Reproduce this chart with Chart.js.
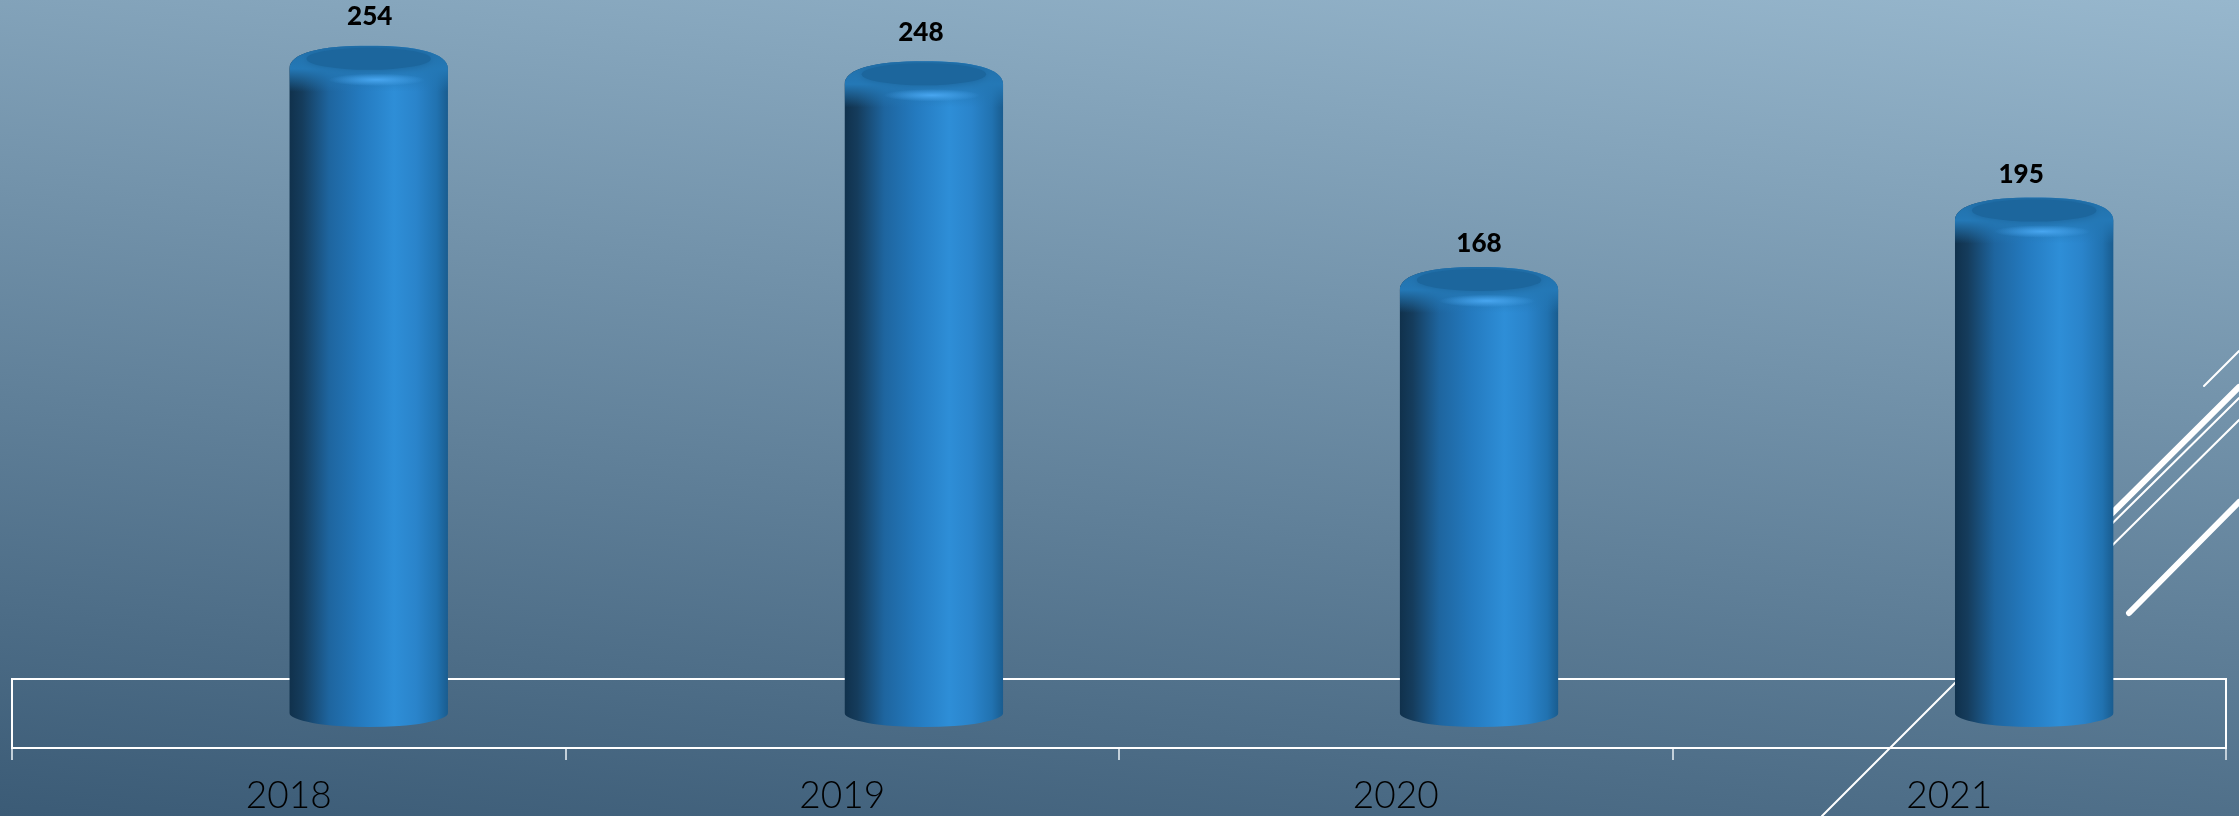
<!DOCTYPE html>
<html>
<head>
<meta charset="utf-8">
<title>Chart</title>
<script src="https://cdn.jsdelivr.net/npm/chart.js@4"></script>
<style>
html, body { margin: 0; padding: 0; }
body {
    width: 2239px; height: 816px; overflow: hidden;
    background: linear-gradient(186deg, #97b7cd 0%, #3b5b76 100%);
}
#wrap { width: 2239px; height: 816px; }
</style>
</head>
<body>
<div id="wrap"><canvas id="columnChart"></canvas></div>
<script>
const years = ["2018", "2019", "2020", "2021"];
const counts = [254, 248, 168, 195];

// the columns stand on the back of the floor, so they sit up and right of their tick,
// and the perspective spreads them out a little
const DEPTH_X = 79.1;
const DEPTH_Y = -21;
const SPREAD_X = 1.003;
const COLUMN_WIDTH = 158;
const BASE_VALUE = -11;

function bodyGradient(ctx, left) {
    const g = ctx.createLinearGradient(left, 0, left + COLUMN_WIDTH, 0);
    g.addColorStop(0, "#10314c");
    g.addColorStop(0.08, "#153c5c");
    g.addColorStop(0.25, "#1e659f");
    g.addColorStop(0.45, "#247abf");
    g.addColorStop(0.66, "#2e8ed7");
    g.addColorStop(0.8, "#2a84cb");
    g.addColorStop(0.93, "#2172b0");
    g.addColorStop(1, "#195c8f");
    return g;
}

function silhouette(ctx, el) {
    const l = el.x - COLUMN_WIDTH / 2, r = el.x + COLUMN_WIDTH / 2;
    const top = el.y, foot = el.base - 14;
    ctx.moveTo(l, foot);
    ctx.lineTo(l, top + 23);
    ctx.bezierCurveTo(l, top + 7, el.x - 48, top, el.x, top);
    ctx.bezierCurveTo(el.x + 48, top, r, top + 7, r, top + 23);
    ctx.lineTo(r, foot);
    ctx.ellipse(el.x, foot, COLUMN_WIDTH / 2, 14, 0, 0, Math.PI);
    ctx.closePath();
}

function drawCap(ctx, el) {
    const l = el.x - COLUMN_WIDTH / 2, top = el.y;

    // shoulder fades into the body below it
    const fade = ctx.createLinearGradient(0, top, 0, top + 46);
    fade.addColorStop(0, "#2170aa");
    fade.addColorStop(0.5, "rgba(36,120,182,1)");
    fade.addColorStop(1, "rgba(36,120,182,0)");
    ctx.fillStyle = fade;
    ctx.fillRect(l, top, COLUMN_WIDTH, 46);

    ctx.save();
    ctx.shadowColor = "#1c669d";
    ctx.shadowBlur = 7;
    ctx.fillStyle = "#1c669d";
    ctx.beginPath();
    ctx.ellipse(el.x, top + 13, 62, 11, 0, 0, Math.PI * 2);
    ctx.fill();
    ctx.restore();

    ctx.save();
    ctx.translate(el.x + 8, top + 34);
    ctx.scale(1, 0.13);
    const glow = ctx.createRadialGradient(0, 0, 0, 0, 0, 48);
    glow.addColorStop(0, "rgba(72,166,240,1)");
    glow.addColorStop(1, "rgba(72,166,240,0)");
    ctx.fillStyle = glow;
    ctx.beginPath();
    ctx.arc(0, 0, 48, 0, Math.PI * 2);
    ctx.fill();
    ctx.restore();
}

const backdrop = {
    id: "backdrop",
    beforeDatasetsDraw(chart) {
        const { ctx, chartArea } = chart;
        ctx.save();
        ctx.strokeStyle = "#ffffff";
        ctx.lineCap = "round";
        [
            [2204, 386, 2239, 351, 2],
            [2060, 565, 2239, 387, 6],
            [2060, 575, 2239, 398, 2],
            [2060, 597, 2239, 420, 2],
            [2129, 613, 2239, 502, 6],
            [1822, 816, 2000, 638, 2]
        ].forEach(([x1, y1, x2, y2, w]) => {
            ctx.lineWidth = w;
            ctx.beginPath();
            ctx.moveTo(x1, y1);
            ctx.lineTo(x2, y2);
            ctx.stroke();
        });
        // floor outline above the axis line
        ctx.lineCap = "butt";
        ctx.lineWidth = 2;
        ctx.beginPath();
        ctx.moveTo(chartArea.left, chartArea.bottom);
        ctx.lineTo(chartArea.left, 679);
        ctx.lineTo(chartArea.right, 679);
        ctx.lineTo(chartArea.right, chartArea.bottom);
        ctx.stroke();
        ctx.restore();
    }
};

// value labels do not sit square over the columns in the original
const labelShift = [[1, -29], [-3, -29], [0, -23], [-13, -23]];

const columns = {
    id: "columns",
    beforeDatasetDraw(chart, args) {
        const ctx = chart.ctx;
        ctx.save();
        ctx.transform(SPREAD_X, 0, 0, 1, DEPTH_X, DEPTH_Y);
        ctx.beginPath();
        args.meta.data.forEach(el => silhouette(ctx, el));
        ctx.clip();
    },
    afterDatasetDraw(chart, args) {
        const ctx = chart.ctx;
        args.meta.data.forEach(el => drawCap(ctx, el));
        ctx.restore();

        ctx.save();
        ctx.transform(SPREAD_X, 0, 0, 1, DEPTH_X, DEPTH_Y);
        ctx.fillStyle = "#000000";
        ctx.font = "900 26px Lato";
        ctx.textAlign = "center";
        ctx.textBaseline = "middle";
        args.meta.data.forEach((el, i) => {
            ctx.fillText(String(counts[i]), el.x + labelShift[i][0], el.y + labelShift[i][1]);
        });
        ctx.restore();
    }
};

const chart = new Chart(document.getElementById("columnChart"), {
    type: "bar",
    data: {
        labels: years,
        datasets: [{
            data: counts,
            base: BASE_VALUE,
            clip: false,
            barThickness: COLUMN_WIDTH,
            borderSkipped: false,
            backgroundColor: c => {
                const centre = c.chart.scales.x ? c.chart.scales.x.getPixelForValue(c.dataIndex) : NaN;
                if (!Number.isFinite(centre)) return "#2680c7";
                return bodyGradient(c.chart.ctx, centre - COLUMN_WIDTH / 2);
            }
        }]
    },
    options: {
        responsive: true,
        maintainAspectRatio: false,
        animation: false,
        layout: { padding: { left: 12, right: 13, top: 0, bottom: 0 } },
        plugins: {
            legend: { display: false },
            tooltip: { enabled: false }
        },
        scales: {
            x: {
                offset: true,
                afterFit: s => { s.height = 68; },
                border: { color: "#ffffff", width: 2 },
                grid: {
                    offset: true,
                    drawOnChartArea: false,
                    color: "#c3d0da",
                    lineWidth: 2,
                    tickLength: 12
                },
                ticks: {
                    color: "#000000",
                    padding: 14,
                    maxRotation: 0,
                    font: { family: "Lato", size: 37, weight: 300 }
                }
            },
            y: {
                display: false,
                min: BASE_VALUE,
                max: 280
            }
        }
    },
    plugins: [backdrop, columns]
});
</script>
</body>
</html>
